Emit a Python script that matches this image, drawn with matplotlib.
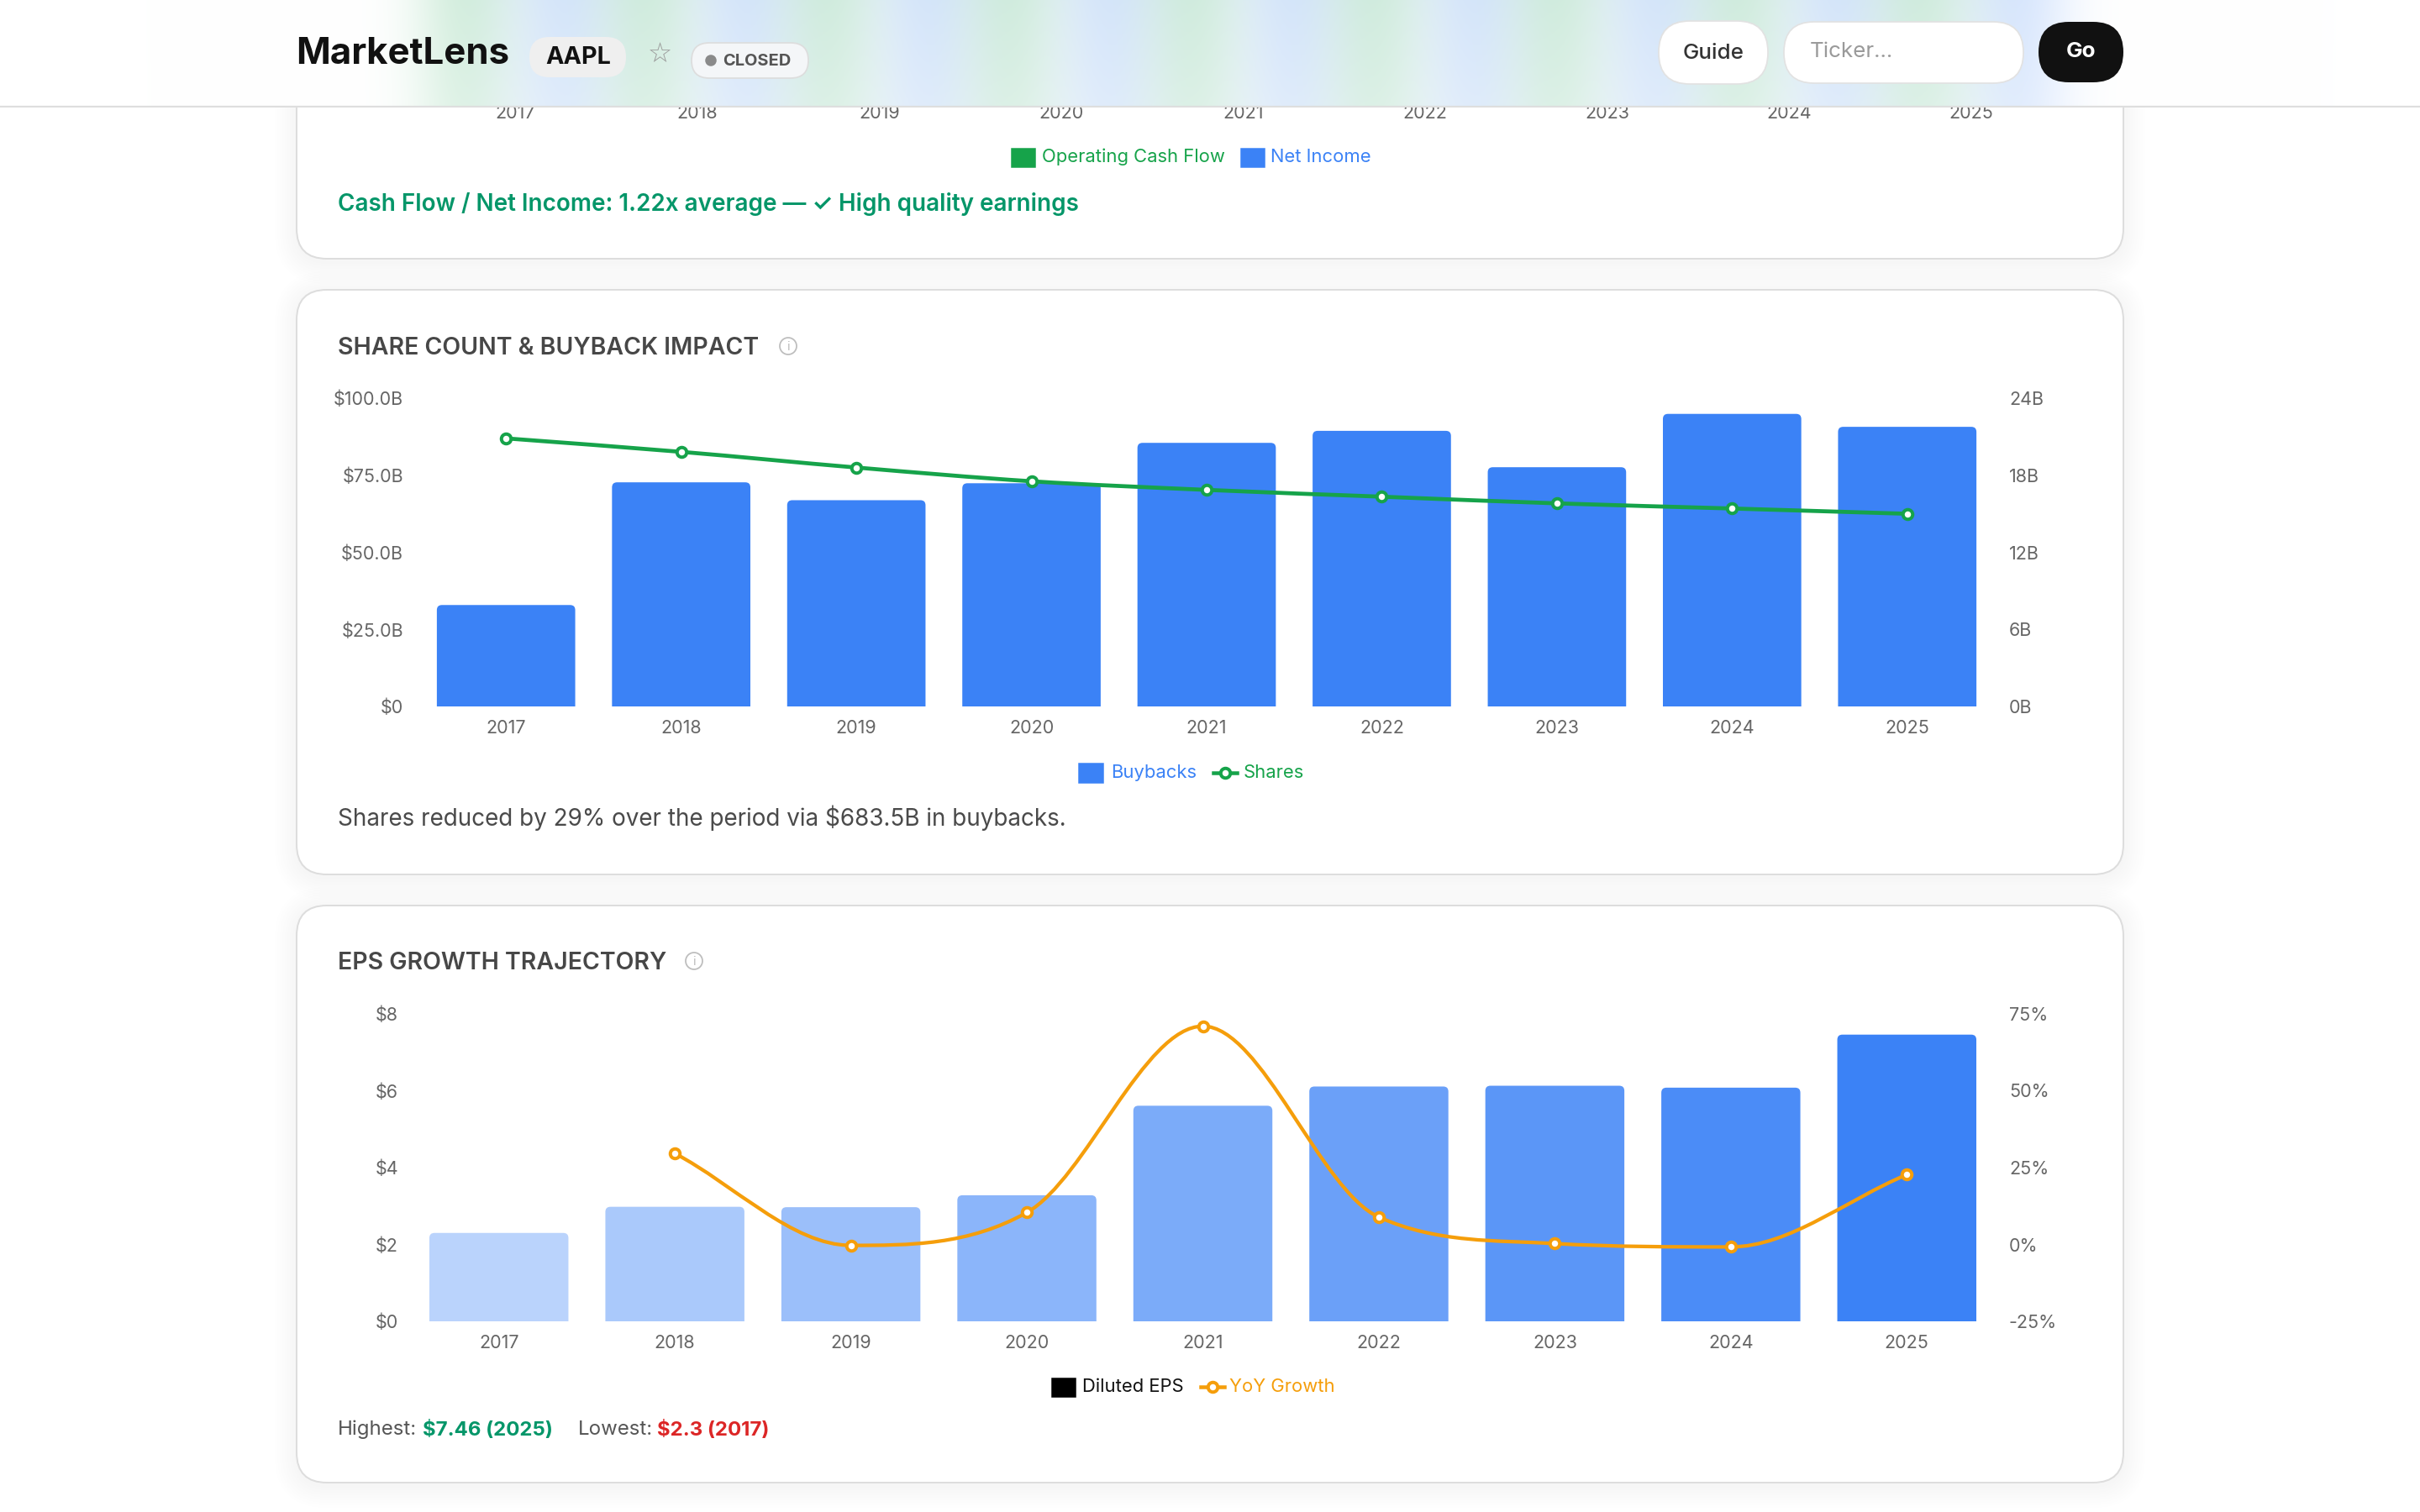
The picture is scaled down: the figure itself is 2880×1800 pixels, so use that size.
import numpy as np
import matplotlib
matplotlib.use('Agg')
import matplotlib.pyplot as plt
from matplotlib.patches import FancyBboxPatch, Rectangle, Circle, PathPatch
from matplotlib.path import Path
from matplotlib.lines import Line2D

plt.rcParams['font.family'] = ['Inter', 'DejaVu Sans']

# ---- data ----
years = ['2017', '2018', '2019', '2020', '2021', '2022', '2023', '2024', '2025']
buybacks = [32.9, 72.7, 66.9, 72.4, 85.5, 89.4, 77.6, 94.9, 90.7]       # $B
shares = [20.87, 19.82, 18.60, 17.53, 16.86, 16.33, 15.81, 15.41, 15.00]  # B shares
eps = [2.30, 2.98, 2.97, 3.28, 5.61, 6.11, 6.13, 6.08, 7.46]
yoy = [np.nan, 29.6, -0.3, 10.4, 71.0, 8.9, 0.3, -0.8, 22.7]           # %

buyback_ticks = [0, 25, 50, 75, 100]
buyback_labels = ['$0', '$25.0B', '$50.0B', '$75.0B', '$100.0B']
share_ticks = [0, 6, 12, 18, 24]
share_labels = ['0B', '6B', '12B', '18B', '24B']
eps_ticks = [0, 2, 4, 6, 8]
eps_labels = ['$0', '$2', '$4', '$6', '$8']
yoy_ticks = [-25, 0, 25, 50, 75]
yoy_labels = ['-25%', '0%', '25%', '50%', '75%']

BLUE = '#3b82f6'
GREEN = '#16a34a'
ORANGE = '#f59e0b'
TICK = '#666666'
TITLE = '#474747'

W, H = 2880, 1800
fig = plt.figure(figsize=(16, 10), dpi=180)
fig.patch.set_facecolor('white')


def box(x0, y0, x1, y1):
    return [x0 / W, 1 - y1 / H, (x1 - x0) / W, (y1 - y0) / H]


def monotone(ax, xs, ys):
    # monotone cubic (chart.js style), computed in pixel space
    p = ax.transData.transform(np.column_stack([xs, ys]))
    n = len(p)
    dk = [(p[i + 1, 1] - p[i, 1]) / (p[i + 1, 0] - p[i, 0]) for i in range(n - 1)]
    mk = [0.0] * n
    mk[0] = dk[0]
    mk[-1] = dk[-1]
    for i in range(1, n - 1):
        if dk[i - 1] == 0 or dk[i] == 0 or np.sign(dk[i - 1]) != np.sign(dk[i]):
            mk[i] = 0.0
        else:
            mk[i] = (dk[i - 1] + dk[i]) / 2
    for i in range(n - 1):
        if dk[i] == 0:
            mk[i] = mk[i + 1] = 0.0
            continue
        a = mk[i] / dk[i]
        b = mk[i + 1] / dk[i]
        sq = a * a + b * b
        if sq > 9:
            tau = 3 / np.sqrt(sq)
            mk[i] = a * tau * dk[i]
            mk[i + 1] = b * tau * dk[i]
    verts = [p[0]]
    codes = [Path.MOVETO]
    for i in range(n - 1):
        dx = (p[i + 1, 0] - p[i, 0]) / 3
        verts += [(p[i, 0] + dx, p[i, 1] + mk[i] * dx),
                  (p[i + 1, 0] - dx, p[i + 1, 1] - mk[i + 1] * dx),
                  p[i + 1]]
        codes += [Path.CURVE4] * 3
    verts = ax.transData.inverted().transform(np.array(verts, dtype=float))
    return Path(verts, codes)


def round_bars(ax, bars, r_px=6):
    # swap plain bars for ones with rounded top corners
    fig.canvas.draw()
    sx = ax.transData.transform((1, 0))[0] - ax.transData.transform((0, 0))[0]
    sy = ax.transData.transform((0, 1))[1] - ax.transData.transform((0, 0))[1]
    rx = r_px / sx
    ry = r_px / sy
    for bar in bars:
        bx, bw, bh = bar.get_x(), bar.get_width(), bar.get_height()
        ax.add_patch(FancyBboxPatch((bx, -ry * 2), bw, bh + ry * 2,
                                    boxstyle=f'round,pad=0,rounding_size={rx}',
                                    mutation_aspect=sx / sy,
                                    fc=bar.get_facecolor(), ec='none'))
        bar.set_visible(False)


# ---- background layer (pixel coords) ----
bg = fig.add_axes([0, 0, 1, 1], zorder=-10)
bg.set_xlim(0, W)
bg.set_ylim(H, 0)
bg.axis('off')


def card(y0, y1):
    for e in range(26, 0, -3):
        bg.add_patch(FancyBboxPatch((353 - e, y0 - e + 4), 2527 - 353 + 2 * e, y1 - y0 + 2 * e,
                                    boxstyle=f'round,pad=0,rounding_size={36 + e}',
                                    fc='black', ec='none', alpha=0.0045))
    bg.add_patch(FancyBboxPatch((353, y0), 2527 - 353, y1 - y0,
                                boxstyle='round,pad=0,rounding_size=36',
                                fc='white', ec='#dddddd', lw=0.8))


card(-200, 308)
card(345, 1041)
card(1078, 1765)

# top card remains (ticks, legend, summary)
for i, y in enumerate(years):
    bg.text(613 + 216.6 * i, 135, y, ha='center', va='center', fontsize=8.6, color=TICK)
bg.add_patch(Rectangle((1204, 177), 27, 21, color=GREEN))
bg.text(1240, 187, 'Operating Cash Flow', va='center', fontsize=8.8, color=GREEN)
bg.add_patch(Rectangle((1477, 177), 27, 21, color=BLUE))
bg.text(1512, 187, 'Net Income', va='center', fontsize=8.8, color=BLUE)
bg.text(402, 243, 'Cash Flow / Net Income: 1.22x average \u2014 \u2713 High quality earnings',
        va='center', fontsize=11.15, color='#059669', fontweight='semibold')


def info_icon(x, y):
    bg.add_patch(Circle((x, y), 10, fc='none', ec='#bdbdbd', lw=0.7))
    bg.text(x, y + 1, 'i', ha='center', va='center', fontsize=6, color='#bdbdbd')


# card 2 text
bg.text(402, 414, 'SHARE COUNT & BUYBACK IMPACT', va='center', fontsize=11.4,
        color=TITLE, fontweight='semibold')
info_icon(938, 412)
bg.add_patch(Rectangle((1284, 909), 28, 22, color=BLUE))
bg.text(1322, 920, 'Buybacks', va='center', fontsize=8.8, color=BLUE)
bg.add_line(Line2D([1444, 1472], [920, 920], color=GREEN, lw=1.8))
bg.plot([1458], [920], 'o', ms=4.6, mfc='white', mec=GREEN, mew=1.6)
bg.text(1480, 920, 'Shares', va='center', fontsize=8.8, color=GREEN)
bg.text(402, 974, 'Shares reduced by 29% over the period via $683.5B in buybacks.',
        va='center', fontsize=11.15, color='#4a4a4a')

# card 3 text
bg.text(402, 1146, 'EPS GROWTH TRAJECTORY', va='center', fontsize=11.4,
        color=TITLE, fontweight='semibold')
info_icon(826, 1144)
bg.add_patch(Rectangle((1252, 1641), 27, 21, color='#000000'))
bg.text(1288, 1651, 'Diluted EPS', va='center', fontsize=8.8, color='#111111')
bg.add_line(Line2D([1429, 1457], [1651, 1651], color=ORANGE, lw=1.8))
bg.plot([1443], [1651], 'o', ms=4.6, mfc='white', mec=ORANGE, mew=1.6)
bg.text(1463, 1651, 'YoY Growth', va='center', fontsize=8.8, color=ORANGE)

hi_i = int(np.argmax(eps))
lo_i = int(np.argmin(eps))
bg.text(402, 1702, 'Highest:', va='center', fontsize=9.6, color='#555555')
bg.text(503, 1702, f'${eps[hi_i]:g} ({years[hi_i]})', va='center', fontsize=9.6,
        color='#059669', fontweight='bold')
bg.text(688, 1702, 'Lowest:', va='center', fontsize=9.6, color='#555555')
bg.text(782, 1702, f'${eps[lo_i]:g} ({years[lo_i]})', va='center', fontsize=9.6,
        color='#dc2626', fontweight='bold')


def style(ax, left_pad):
    for s in ax.spines.values():
        s.set_visible(False)
    ax.tick_params(axis='both', length=0, labelsize=8.6, colors=TICK)
    ax.tick_params(axis='y', pad=left_pad)
    ax.tick_params(axis='x', pad=6.5)
    ax.patch.set_alpha(0)


x = np.arange(len(years))

# ---- chart 1: buybacks + shares ----
ax1 = fig.add_axes(box(498, 474, 2374, 841))
bars1 = ax1.bar(x, buybacks, width=0.79, color=BLUE)
ax1.set_xlim(-0.5, len(years) - 0.5)
ax1.set_ylim(0, 100)
ax1.set_xticks(x, years)
ax1.set_yticks(buyback_ticks, buyback_labels)
style(ax1, 7.2)
round_bars(ax1, bars1)
ax1r = ax1.twinx()
ax1r.set_ylim(0, 24)
ax1r.set_yticks(share_ticks, share_labels)
style(ax1r, 6.8)
ax1r.add_patch(PathPatch(monotone(ax1r, x, shares), fc='none', ec=GREEN, lw=1.9, clip_on=False))
ax1r.plot(x, shares, 'o', ms=4.6, mfc='white', mec=GREEN, mew=1.6, clip_on=False)

# ---- chart 2: EPS + YoY ----
ax2 = fig.add_axes(box(489, 1207, 2374, 1573))
eps_cols = []
for i in range(len(years)):
    a = 0.35 + 0.65 * i / (len(years) - 1)
    eps_cols.append(tuple(1 - a * (1 - c) for c in matplotlib.colors.to_rgb(BLUE)))
bars2 = ax2.bar(x, eps, width=0.79, color=eps_cols)
ax2.set_xlim(-0.5, len(years) - 0.5)
ax2.set_ylim(0, 8)
ax2.set_xticks(x, years)
ax2.set_yticks(eps_ticks, eps_labels)
style(ax2, 6)
round_bars(ax2, bars2)
ax2r = ax2.twinx()
ax2r.set_ylim(-25, 75)
ax2r.set_yticks(yoy_ticks, yoy_labels)
style(ax2r, 6.8)
yv = np.array(yoy)
ok = ~np.isnan(yv)
ax2r.add_patch(PathPatch(monotone(ax2r, x[ok], yv[ok]), fc='none', ec=ORANGE, lw=1.7, clip_on=False))
ax2r.plot(x[ok], yv[ok], 'o', ms=4.6, mfc='white', mec=ORANGE, mew=1.6, clip_on=False)

# ---- header ----
HH = 128
hdr = fig.add_axes(box(0, 0, W, HH), zorder=10)
px = np.arange(W)
g = np.zeros(W)
b = np.zeros(W)
for i in range(len(years)):
    xc = 613 + 216.6 * i
    g += np.exp(-0.5 * ((px - (xc - 60)) / 45) ** 2)
    b += np.exp(-0.5 * ((px - (xc + 55)) / 45) ** 2)
g = np.clip(g, 0, 1)
b = np.clip(b, 0, 1)
vert = np.linspace(1.0, 0.75, HH)[:, None]
gc = np.array(matplotlib.colors.to_rgb(GREEN))
bc = np.array(matplotlib.colors.to_rgb(BLUE))
img = np.ones((HH, W, 3))
img -= (0.18 * g * vert)[..., None] * (1 - gc)
img -= (0.19 * b * vert)[..., None] * (1 - bc)
hdr.imshow(np.clip(img, 0, 1), extent=(0, W, HH, 0), aspect='auto', interpolation='bilinear')
hdr.set_xlim(0, W)
hdr.set_ylim(HH, 0)
hdr.axis('off')
hdr.axhline(127, color='#dedede', lw=0.9)

hdr.text(352, 64, 'MarketLens', va='center', fontsize=17.5, fontweight='bold', color='#111111')
hdr.add_patch(FancyBboxPatch((630, 44), 115, 48, boxstyle='round,pad=0,rounding_size=24',
                             fc='#efefef', ec='none'))
hdr.text(688, 68, 'AAPL', ha='center', va='center', fontsize=11.5, fontweight='bold', color='#111111')
hdr.text(785, 65, '\u2606', ha='center', va='center', fontsize=13, color='#9a9a9a',
         family='DejaVu Sans')
hdr.add_patch(FancyBboxPatch((823, 51), 139, 42, boxstyle='round,pad=0,rounding_size=21',
                             fc='#f4f6f8', ec='#dddddd', lw=0.7))
hdr.add_patch(Circle((846, 72), 5.5, color='#8a8a8a'))
hdr.text(860, 73, 'CLOSED', va='center', fontsize=8, fontweight='bold', color='#555555')

hdr.add_patch(FancyBboxPatch((1974, 25), 130, 75, boxstyle='round,pad=0,rounding_size=37',
                             fc='white', ec='#e2e2e2', lw=0.7))
hdr.text(2039, 63, 'Guide', ha='center', va='center', fontsize=10.4, fontweight='medium', color='#333333')
hdr.add_patch(FancyBboxPatch((2123, 26), 285, 73, boxstyle='round,pad=0,rounding_size=36',
                             fc='white', ec='#e2e2e2', lw=0.7))
hdr.text(2154, 62, 'Ticker...', va='center', fontsize=10.4, color='#9a9a9a')
hdr.add_patch(FancyBboxPatch((2426, 26), 101, 72, boxstyle='round,pad=0,rounding_size=36',
                             fc='#111111', ec='none'))
hdr.text(2476, 62, 'Go', ha='center', va='center', fontsize=10.4, fontweight='bold', color='white')

fig.savefig('out.png', dpi=180, facecolor=fig.get_facecolor())
